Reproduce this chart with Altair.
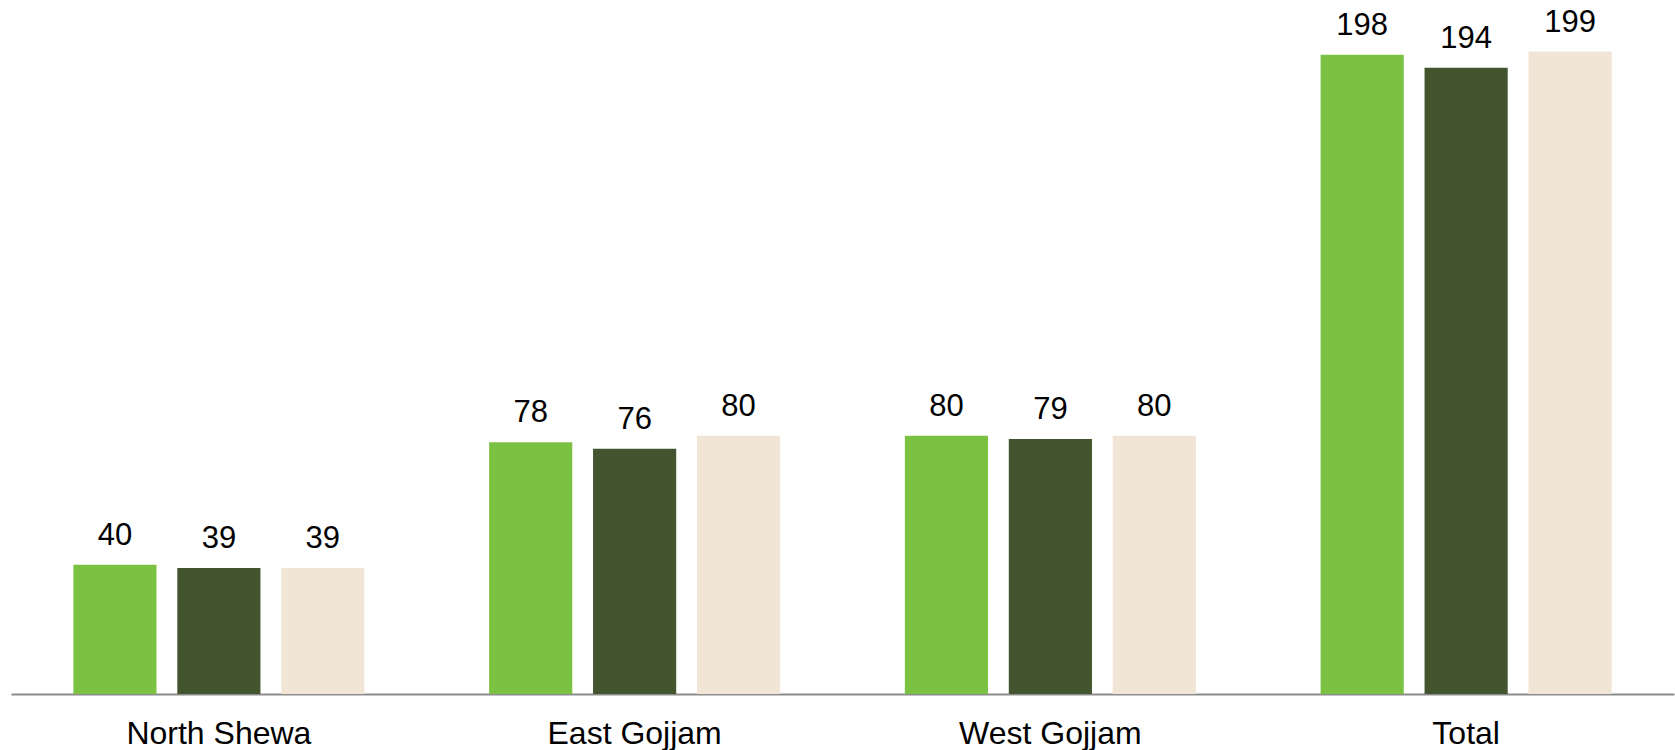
import altair as alt
import pandas as pd

# Zones and the three series counted in each
zones = ["North Shewa", "East Gojjam", "West Gojjam", "Total"]
series = ["Series A", "Series B", "Series C"]
series_a = [40, 78, 80, 198]
series_b = [39, 76, 79, 194]
series_c = [39, 80, 80, 199]
colors = ["#7CC242", "#43552F", "#F1E5D6"]

rows = []
for i, z in enumerate(zones):
    for s, vals in zip(series, [series_a, series_b, series_c]):
        rows.append({"zone": z, "series": s, "value": vals[i]})
df = pd.DataFrame(rows)

base = alt.Chart(df).encode(
    x=alt.X(
        "zone:N",
        sort=zones,
        title=None,
        scale=alt.Scale(paddingInner=0, paddingOuter=0),
        axis=alt.Axis(
            labelAngle=0,
            ticks=False,
            labelFont="Liberation Sans",
            labelFontSize=32,
            labelLimit=0,
            labelColor="#000000",
            labelBaseline="alphabetic",
            labelPadding=49,
            domainColor="#8C8C8C",
            domainWidth=2,
            grid=False,
        ),
    ),
    xOffset=alt.XOffset(
        "series:N",
        sort=series,
        scale=alt.Scale(paddingInner=0.2, paddingOuter=0.6),
    ),
    y=alt.Y(
        "value:Q",
        scale=alt.Scale(domain=[0, 210], nice=False, zero=True),
        axis=None,
    ),
)

bars = base.mark_bar().encode(
    color=alt.Color(
        "series:N",
        sort=series,
        scale=alt.Scale(domain=series, range=colors),
        legend=None,
    )
)

labels = base.mark_text(
    font="Liberation Sans",
    fontSize=31,
    color="#000000",
    baseline="alphabetic",
    dy=-20,
).encode(text="value:Q")

chart = (
    alt.layer(bars, labels)
    .properties(
        width=1663,
        height=678,
        autosize=alt.AutoSizeParams(type="none"),
        padding={"left": 11, "top": 16, "right": 1, "bottom": 56},
        background="#FFFFFF",
    )
    .configure_view(stroke=None)
)

chart.save("out.html", embed_options={"renderer": "svg", "actions": False})
